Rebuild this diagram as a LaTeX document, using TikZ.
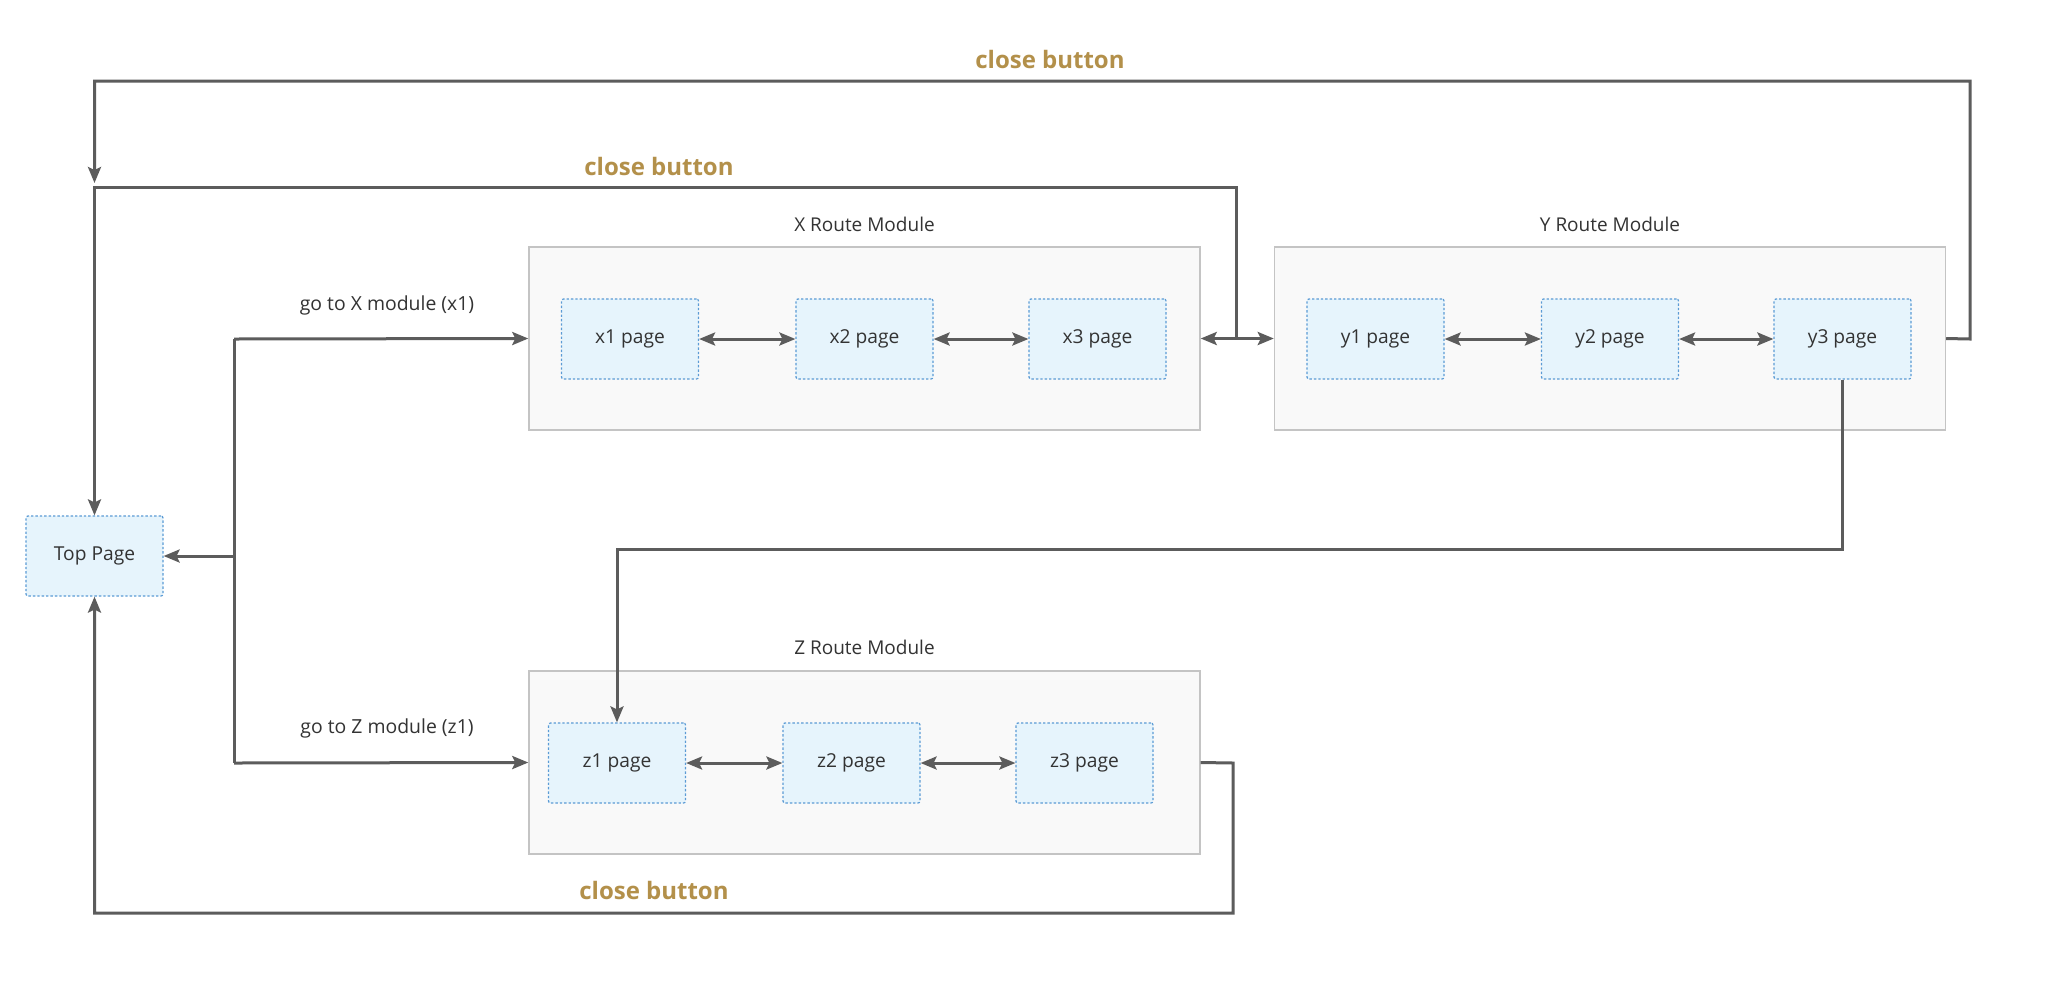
\documentclass[tikz,border=0pt]{standalone}
\usepackage{fontspec}
\setmainfont{Open Sans}
\usetikzlibrary{arrows.meta}
\definecolor{arr}{HTML}{5C5C5C}
\definecolor{pagef}{HTML}{E6F4FC}
\definecolor{pageb}{HTML}{5B9BD5}
\definecolor{modf}{HTML}{F9F9F9}
\definecolor{modb}{HTML}{C4C4C4}
\definecolor{txt}{HTML}{333333}
\definecolor{gold}{HTML}{B3904A}
\tikzset{
  pagebox/.style={draw=pageb, fill=pagef, dash pattern=on 1.2pt off 1pt, line width=0.6pt,
    minimum width=68.5pt, minimum height=40pt, rounded corners=1pt, inner sep=0pt,
    font=\fontsize{9.6}{11}\selectfont, text=txt},
  modbox/.style={draw=modb, fill=modf, line width=0.7pt, minimum width=335.5pt,
    minimum height=91.5pt, inner sep=0pt},
  modtitle/.style={font=\fontsize{9.5}{11}\selectfont, text=txt, inner sep=0pt},
  lbl/.style={font=\fontsize{9.7}{11}\selectfont, text=txt, inner sep=0pt},
  closelbl/.style={font=\bfseries\fontsize{12}{14}\selectfont, text=gold, inner sep=0pt},
  conn/.style={draw=arr, line width=1.5pt},
  onetip/.style={-{Stealth[length=8pt,width=6.5pt,inset=1.5pt]}},
  twotip/.style={{Stealth[length=8pt,width=6.5pt,inset=1.5pt]}-{Stealth[length=8pt,width=6.5pt,inset=1.5pt]}}
}
\begin{document}
\begin{tikzpicture}[x=0.5pt,y=-0.5pt]
\useasboundingbox[fill=white] (0,0) rectangle (2050,1002);
% modules
\node[modbox] (X) at (864.5,338.5) {};
\node[modbox] (Y) at (1610,338.5) {};
\node[modbox] (Z) at (864.5,762.5) {};
\node[modtitle] (Xt) at (864.5,224) {X Route Module};
\node[modtitle] (Yt) at (1610,224) {Y Route Module};
\node[modtitle] (Zt) at (864.5,647) {Z Route Module};
% pages
\node[pagebox] (top) at (94.5,556) {Top Page};
\node[pagebox] (x1) at (630,339) {x1 page};
\node[pagebox] (x2) at (864.5,339) {x2 page};
\node[pagebox] (x3) at (1097.5,339) {x3 page};
\node[pagebox] (y1) at (1375.5,339) {y1 page};
\node[pagebox] (y2) at (1610,339) {y2 page};
\node[pagebox] (y3) at (1842.5,339) {y3 page};
\node[pagebox] (z1) at (617,763) {z1 page};
\node[pagebox] (z2) at (851.5,763) {z2 page};
\node[pagebox] (z3) at (1084.5,763) {z3 page};
% inner links
\draw[conn,twotip] (x1) -- (x2);
\draw[conn,twotip] (x2) -- (x3);
\draw[conn,twotip] (y1) -- (y2);
\draw[conn,twotip] (y2) -- (y3);
\draw[conn,twotip] (z1) -- (z2);
\draw[conn,twotip] (z2) -- (z3);
% trunk from top page
\coordinate (tt) at (234,339);
\coordinate (tb) at (234,763);
\coordinate (tm) at (234,556);
\draw[conn] (tt) -- (tb);
\draw[conn,onetip] (tt) -- (X.west);
\draw[conn,onetip] (tb) -- (Z.west);
\draw[conn,onetip] (tm) -- (top.east);
\node[lbl] (gx) at (387,305) {go to X module (x1)};
\node[lbl] (gz) at (387,728) {go to Z module (z1)};
% X <-> Y and close from X
\coordinate (j) at (1236,339);
\coordinate (j1) at (1236,187);
\draw[conn,twotip] (X.east) -- (Y.west);
\draw[conn,onetip] (j) -- (j1) -| (top.north);
\node[closelbl] (c2) at (659,166) {close button};
% close from Y
\coordinate (ya) at (1970,339);
\coordinate (yb) at (1970,81);
\coordinate (yc) at (94.5,81);
\coordinate (yd) at (94.5,183);
\draw[conn,onetip] (Y.east) -- (ya) -- (yb) -- (yc) -- (yd);
\node[closelbl] (c1) at (1050,59) {close button};
% y3 -> z1
\coordinate (yz) at (1842.5,549);
\draw[conn,onetip] (y3.south) -- (yz) -| (z1.north);
% close from Z
\coordinate (za) at (1233,763);
\coordinate (zb) at (1233,913);
\draw[conn,onetip] (Z.east) -- (za) -- (zb) -| (top.south);
\node[closelbl] (c3) at (654,890) {close button};
\end{tikzpicture}
\end{document}
